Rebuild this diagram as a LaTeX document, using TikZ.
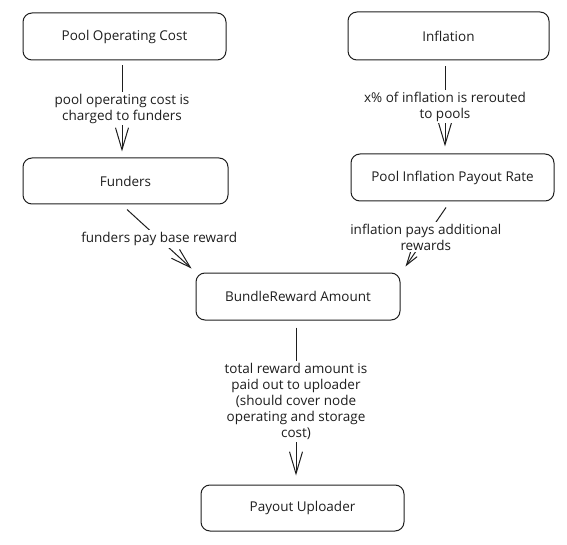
\documentclass[tikz,border=0pt]{standalone}
\usepackage{fontspec}
\setmainfont{Open Sans}
\usetikzlibrary{arrows.meta}
\definecolor{ink}{HTML}{1E1E1E}
\begin{document}
\begin{tikzpicture}[x=1pt,y=-1pt,
  box/.style={draw=ink,line width=1pt,rounded corners=9pt,minimum width=203pt,minimum height=47pt,inner sep=0pt,font=\fontsize{13.5}{16}\selectfont,text=ink},
  flow/.style={draw=ink,line width=1pt,-{Straight Barb[length=22pt,width=13pt]}},
  lbl/.style={fill=white,font=\fontsize{13.5}{16}\selectfont,text=ink,align=center,inner sep=2pt}]
\useasboundingbox (0,0) rectangle (567,545);
\node[box] (poc) at (124.5,36.5) {Pool Operating Cost};
\node[box,minimum width=205pt,minimum height=46pt] (fun) at (125.5,181) {Funders};
\node[box,minimum width=201pt,minimum height=48pt] (inf) at (448.5,36) {Inflation};
\node[box] (pipr) at (452.5,177.5) {Pool Inflation Payout Rate};
\node[box,minimum width=204pt] (bra) at (298,296.5) {BundleReward Amount};
\node[box,minimum height=46pt] (pay) at (302.5,508) {Payout Uploader};

\draw[flow] ([shift={(-2.5pt,-5pt)}]poc.south) -- node[lbl]{pool operating cost is\\charged to funders} ([shift={(-3.5pt,6pt)}]fun.north);
\draw[flow] ([shift={(-3.5pt,-6pt)}]inf.south) -- node[lbl]{x\% of inflation is rerouted\\to pools} ([shift={(-7.5pt,7pt)}]pipr.north);
\draw[flow,-{Straight Barb[length=20pt,width=12pt]}] ([shift={(1.5pt,-5pt)}]fun.south) -- node[lbl]{funders pay base reward} ([shift={(-4pt,4pt)}]bra.north west);
\draw[flow,-{Straight Barb[length=13pt,width=8pt]}] ([shift={(-6.5pt,-6pt)}]pipr.south) -- node[lbl]{inflation pays additional\\rewards} ([shift={(5pt,6pt)}]bra.north east);
\draw[flow] ([shift={(-2pt,-7pt)}]bra.south) -- node[lbl]{total reward amount is\\paid out to uploader\\(should cover node\\operating and storage\\cost)} ([shift={(-6.5pt,9pt)}]pay.north);
\end{tikzpicture}
\end{document}
